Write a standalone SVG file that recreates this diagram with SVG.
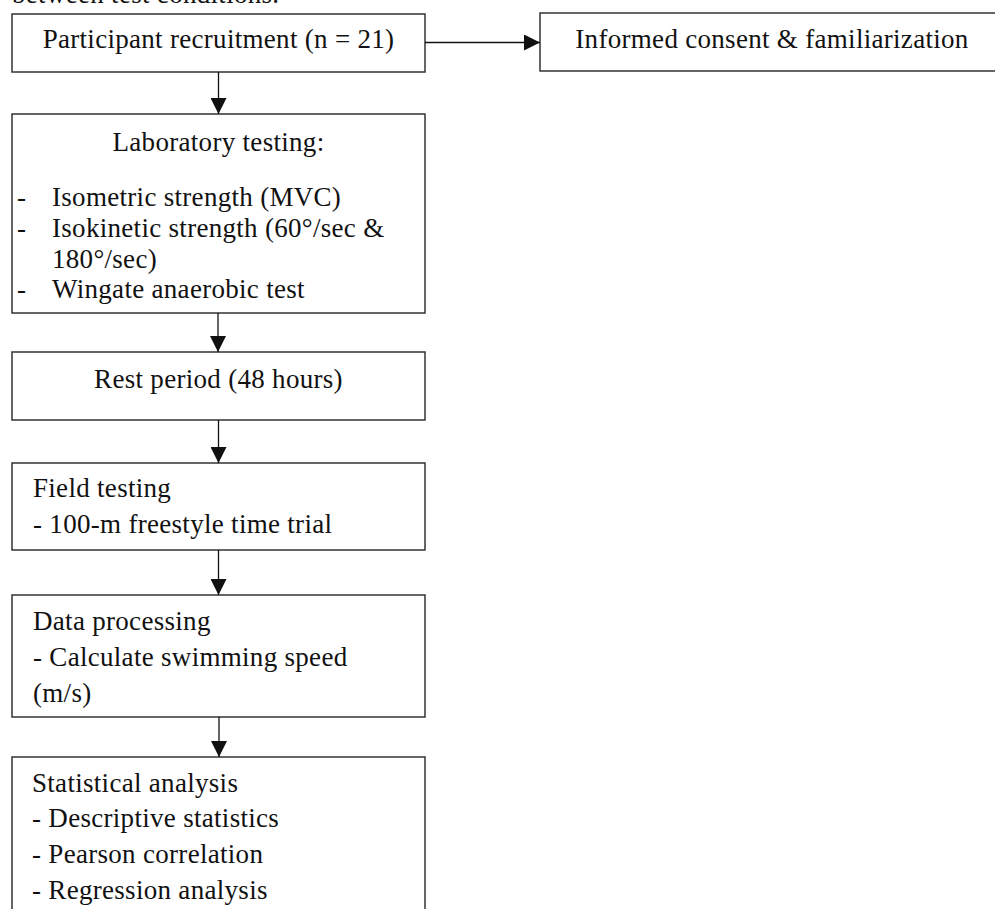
<svg xmlns="http://www.w3.org/2000/svg" width="995" height="909" viewBox="0 0 995 909">
<style>
.box{fill:#fff;stroke:#333;stroke-width:1.5}
.t{font-family:"Liberation Serif","Times New Roman",serif;font-size:27px;fill:#111;letter-spacing:0.3px}
.c{text-anchor:middle}
.con{stroke:#111;stroke-width:1.3;fill:none;marker-end:url(#ah)}
</style>
<defs>
<marker id="ah" viewBox="0 0 16 16" refX="16" refY="8" markerWidth="16" markerHeight="16" orient="auto" markerUnits="userSpaceOnUse"><path d="M0,0 L16,8 L0,16 z" fill="#111"/></marker>
</defs>
<rect width="995" height="909" fill="#fff"/>
<text class="t" x="12" y="3">between test conditions.</text>
<g id="recruitment">
<rect class="box" x="12" y="14" width="413" height="58"/>
<text class="t c" x="218.5" y="48">Participant recruitment (n = 21)</text>
</g>
<g id="consent">
<rect class="box" x="540" y="13" width="470" height="58"/>
<text class="t c" x="772" y="48">Informed consent &amp; familiarization</text>
</g>
<g id="lab">
<rect class="box" x="12" y="114" width="413" height="199"/>
<text class="t c" x="218.5" y="151">Laboratory testing:</text>
<text class="t" x="17" y="206">-</text><text class="t" x="52" y="206">Isometric strength (MVC)</text>
<text class="t" x="17" y="237">-</text><text class="t" x="52" y="237">Isokinetic strength (60°/sec &amp;</text>
<text class="t" x="52" y="268">180°/sec)</text>
<text class="t" x="17" y="298">-</text><text class="t" x="52" y="298">Wingate anaerobic test</text>
</g>
<g id="rest">
<rect class="box" x="12" y="352" width="413" height="68"/>
<text class="t c" x="218.5" y="388">Rest period (48 hours)</text>
</g>
<g id="field">
<rect class="box" x="12" y="463" width="413" height="87"/>
<text class="t" x="33" y="497">Field testing</text>
<text class="t" x="33" y="533">- 100-m freestyle time trial</text>
</g>
<g id="data">
<rect class="box" x="12" y="595" width="413" height="122"/>
<text class="t" x="33" y="630">Data processing</text>
<text class="t" x="33" y="666">- Calculate swimming speed</text>
<text class="t" x="33" y="702">(m/s)</text>
</g>
<g id="stats">
<rect class="box" x="12" y="757" width="413" height="170"/>
<text class="t" x="32" y="792">Statistical analysis</text>
<text class="t" x="32" y="827">- Descriptive statistics</text>
<text class="t" x="32" y="863">- Pearson correlation</text>
<text class="t" x="32" y="899">- Regression analysis</text>
</g>
<g id="connectors">
<line class="con" x1="425" y1="42.5" x2="540" y2="42.5"/>
<line class="con" x1="218.5" y1="72" x2="218.5" y2="114"/>
<line class="con" x1="218" y1="313" x2="218" y2="352"/>
<line class="con" x1="218.5" y1="420" x2="218.5" y2="463"/>
<line class="con" x1="218.5" y1="550" x2="218.5" y2="595"/>
<line class="con" x1="219" y1="717" x2="219" y2="757"/>
</g>
</svg>
